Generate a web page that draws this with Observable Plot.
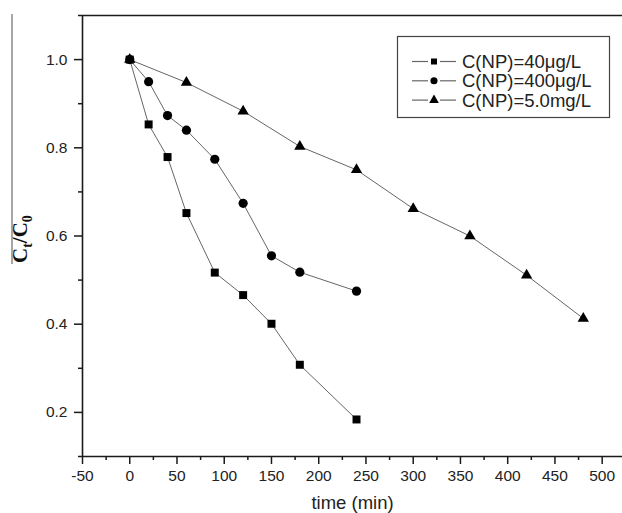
<!DOCTYPE html>
<html>
<head>
<meta charset="utf-8">
<script src="https://cdn.jsdelivr.net/npm/d3@7"></script>
<script src="https://cdn.jsdelivr.net/npm/@observablehq/plot@0.6"></script>
<style>
  html, body { margin: 0; padding: 0; background: #fff; }
  #chart svg { display: block; }
</style>
</head>
<body>
<div id="chart"></div>
<script>
// ---- data ----
const seriesNames = ["C(NP)=40μg/L", "C(NP)=400μg/L", "C(NP)=5.0mg/L"];
const timeA = [0, 20, 40, 60, 90, 120, 150, 180, 240];
const ratioA = [1.0, 0.853, 0.779, 0.652, 0.517, 0.466, 0.401, 0.308, 0.184];
const timeB = [0, 20, 40, 60, 90, 120, 150, 180, 240];
const ratioB = [1.0, 0.950, 0.873, 0.840, 0.774, 0.674, 0.555, 0.518, 0.475];
const timeC = [0, 60, 120, 180, 240, 300, 360, 420, 480];
const ratioC = [1.0, 0.948, 0.883, 0.803, 0.750, 0.662, 0.600, 0.511, 0.413];
const xMajorTicks = [-50, 0, 50, 100, 150, 200, 250, 300, 350, 400, 450, 500];
const xMinorTicks = [-25, 25, 75, 125, 175, 225, 275, 325, 375, 425, 475];
const yMajorTicks = [0.2, 0.4, 0.6, 0.8, 1.0];
const yMinorTicks = [0.1, 0.3, 0.5, 0.7, 0.9, 1.1];

const mk = (ts, vs, s) => ts.map((t, i) => ({t, v: vs[i], s}));
const dataA = mk(timeA, ratioA, seriesNames[0]);
const dataB = mk(timeB, ratioB, seriesNames[1]);
const dataC = mk(timeC, ratioC, seriesNames[2]);

const W = 622, H = 513;
const lineColor = "#666";
const axisColor = "#1a1a1a";

const plot = Plot.plot({
  width: W,
  height: H,
  marginLeft: 82,
  marginRight: 0,
  marginTop: 15,
  marginBottom: 57,
  style: {fontFamily: "'Liberation Sans', Arial, sans-serif", background: "#fff", overflow: "visible"},
  x: {domain: [-50, 521.5]},
  y: {domain: [0.1, 1.1]},
  marks: [
    // lines
    Plot.line(dataA, {x: "t", y: "v", stroke: lineColor, strokeWidth: 1}),
    Plot.line(dataB, {x: "t", y: "v", stroke: lineColor, strokeWidth: 1}),
    Plot.line(dataC, {x: "t", y: "v", stroke: lineColor, strokeWidth: 1}),
    // markers
    Plot.dot(dataC, {x: "t", y: "v", symbol: "triangle", r: 4.2, fill: "#000", stroke: "none"}),
    Plot.dot(dataB, {x: "t", y: "v", symbol: "circle", r: 4.6, fill: "#000", stroke: "none"}),
    Plot.dot(dataA, {x: "t", y: "v", symbol: "square", r: 4.5, fill: "#000", stroke: "none"}),
    // axes
    Plot.axisX({ticks: xMajorTicks, tickFormat: d => String(d), tickSize: 8, tickPadding: 5,
      fontSize: 15.5, stroke: axisColor, strokeWidth: 1.5, color: "#222", label: null}),
    Plot.axisX({ticks: xMinorTicks, tickFormat: () => "", tickSize: 4, stroke: axisColor, strokeWidth: 1.5, label: null}),
    Plot.axisY({ticks: yMajorTicks, tickFormat: d3.format(".1f"), tickSize: 8, tickPadding: 7,
      fontSize: 15.5, stroke: axisColor, strokeWidth: 1.5, color: "#222", label: null}),
    Plot.axisY({ticks: yMinorTicks, tickFormat: () => "", tickSize: 4, stroke: axisColor, strokeWidth: 1.5, label: null}),
    // frame lines
    Plot.ruleX([-50], {stroke: axisColor, strokeWidth: 1.6}),
    Plot.ruleY([0.1], {stroke: axisColor, strokeWidth: 1.6}),
    Plot.ruleY([1.1], {stroke: axisColor, strokeWidth: 1.6}),
    // x label
    Plot.text(["time (min)"], {frameAnchor: "bottom", dy: 47, fontSize: 18.5, fill: "#222", lineAnchor: "middle"})
  ]
});

document.getElementById("chart").appendChild(plot);

// ---- decorations: y label and legend ----
const svg = d3.select(plot);

// y-axis label (rotated, bold serif with subscripts) and its bar
svg.append("line")
  .attr("x1", 12).attr("x2", 12).attr("y1", 14).attr("y2", 264)
  .attr("stroke", "#777").attr("stroke-width", 1.3);

const yl = svg.append("text")
  .attr("transform", "translate(27,263) rotate(-90)")
  .attr("text-anchor", "start")
  .attr("font-family", "'Liberation Serif', 'Times New Roman', serif")
  .attr("font-weight", "bold")
  .attr("font-size", 21)
  .attr("fill", "#111");
yl.append("tspan").text("C");
yl.append("tspan").attr("font-size", 14).attr("dy", 5).text("t");
yl.append("tspan").attr("dy", -5).text("/C");
yl.append("tspan").attr("font-size", 14).attr("dy", 5).text("0");

// legend
const lg = svg.append("g").attr("font-family", "'Liberation Sans', Arial, sans-serif");
lg.append("rect")
  .attr("x", 397.5).attr("y", 36.5).attr("width", 212).attr("height", 81)
  .attr("fill", "#fff").attr("stroke", "#444").attr("stroke-width", 1.2);
const symbols = [d3.symbolSquare, d3.symbolCircle, d3.symbolTriangle];
const symSizes = [36, 40, 40];
seriesNames.forEach((name, i) => {
  const cy = 61.5 + i * 19.3;
  lg.append("line").attr("x1", 412).attr("x2", 428).attr("y1", cy).attr("y2", cy)
    .attr("stroke", lineColor).attr("stroke-width", 1.2);
  lg.append("line").attr("x1", 440).attr("x2", 456).attr("y1", cy).attr("y2", cy)
    .attr("stroke", lineColor).attr("stroke-width", 1.2);
  lg.append("path").attr("d", d3.symbol(symbols[i], symSizes[i])())
    .attr("transform", `translate(434,${cy})`).attr("fill", "#000");
  lg.append("text").attr("x", 462).attr("y", cy).attr("dy", "0.36em")
    .attr("text-anchor", "start")
    .attr("font-size", 18.5).attr("fill", "#222").text(name);
});
</script>
</body>
</html>
